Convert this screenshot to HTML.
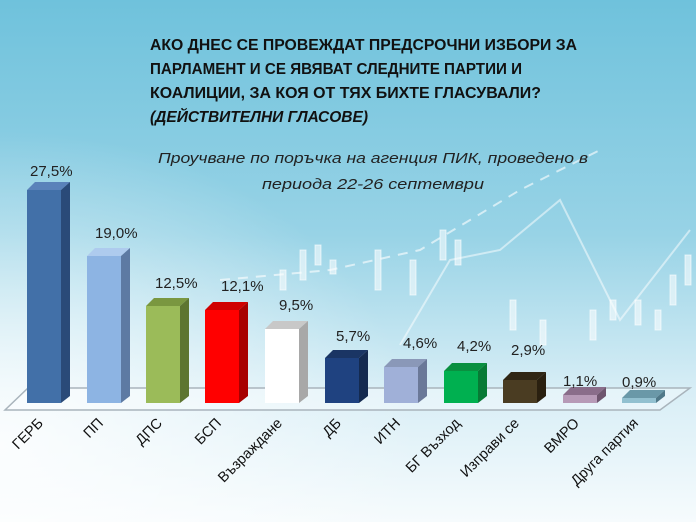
<!DOCTYPE html>
<html><head><meta charset="utf-8"><style>
html,body{margin:0;padding:0;width:696px;height:522px;overflow:hidden}
svg{display:block;font-family:"Liberation Sans","DejaVu Sans",sans-serif}
</style></head><body>
<svg width="696" height="522" viewBox="0 0 696 522">
<defs>
<linearGradient id="bg" x1="0" y1="0" x2="0" y2="1">
<stop offset="0" stop-color="#6fc2dc"/><stop offset="0.45" stop-color="#98d3e6"/><stop offset="0.75" stop-color="#d8eef6"/><stop offset="1" stop-color="#f6fbfd"/>
</linearGradient>
<radialGradient id="wl" cx="0" cy="0.85" r="0.6">
<stop offset="0" stop-color="#ffffff" stop-opacity="0.85"/><stop offset="1" stop-color="#ffffff" stop-opacity="0"/>
</radialGradient>
</defs>
<rect width="696" height="522" fill="url(#bg)"/>
<rect width="696" height="522" fill="url(#wl)"/>
<g stroke="#ffffff" stroke-opacity="0.6" fill="#ffffff" fill-opacity="0.55" stroke-width="1">
<rect x="280" y="270" width="6" height="20"/><rect x="300" y="250" width="6" height="30"/><rect x="315" y="245" width="6" height="20"/><rect x="330" y="260" width="6" height="14"/><rect x="375" y="250" width="6" height="40"/><rect x="410" y="260" width="6" height="35"/><rect x="440" y="230" width="6" height="30"/><rect x="455" y="240" width="6" height="25"/><rect x="510" y="300" width="6" height="30"/><rect x="540" y="320" width="6" height="25"/><rect x="590" y="310" width="6" height="30"/><rect x="610" y="300" width="6" height="20"/><rect x="635" y="300" width="6" height="25"/><rect x="655" y="310" width="6" height="20"/><rect x="670" y="275" width="6" height="30"/><rect x="685" y="255" width="6" height="30"/>
</g>
<polyline points="400,345 450,260 500,250 560,200 620,320 690,230" fill="none" stroke="#fff" stroke-opacity="0.5" stroke-width="2"/>
<polyline points="220,280 330,270 420,250 520,190 600,150" fill="none" stroke="#fff" stroke-opacity="0.6" stroke-width="2" stroke-dasharray="10,8"/>
<g font-weight="bold" font-size="16" fill="#111">
<text x="150" y="50" textLength="427" lengthAdjust="spacingAndGlyphs">АКО ДНЕС СЕ ПРОВЕЖДАТ ПРЕДСРОЧНИ ИЗБОРИ ЗА</text>
<text x="150" y="74" textLength="372" lengthAdjust="spacingAndGlyphs">ПАРЛАМЕНТ И СЕ ЯВЯВАТ СЛЕДНИТЕ ПАРТИИ И</text>
<text x="150" y="98" textLength="391" lengthAdjust="spacingAndGlyphs">КОАЛИЦИИ, ЗА КОЯ ОТ ТЯХ БИХТЕ ГЛАСУВАЛИ?</text>
<text x="150" y="122" font-style="italic" textLength="218" lengthAdjust="spacingAndGlyphs">(ДЕЙСТВИТЕЛНИ ГЛАСОВЕ)</text>
</g>
<g font-style="italic" font-size="15" fill="#222">
<text x="158" y="163" textLength="430" lengthAdjust="spacingAndGlyphs">Проучване по поръчка на агенция ПИК, проведено в</text>
<text x="262" y="189" textLength="222" lengthAdjust="spacingAndGlyphs">периода 22-26 септември</text>
</g>
<polygon points="5,410 660,410 690,388 28,388" fill="#ffffff" fill-opacity="0.35" stroke="#a9b4bc" stroke-width="1.5"/>
<g font-size="15" fill="#222">
<polygon points="27,190 35,182 70,182 61,190" fill="#5a82ba"/><polygon points="61,190 70,182 70,396 61,403" fill="#2a4a78"/><rect x="27" y="190" width="34" height="213" fill="#4270a8"/>
<text x="30" y="176">27,5%</text>
<polygon points="87,256 95,248 130,248 121,256" fill="#aecbee"/><polygon points="121,256 130,248 130,396 121,403" fill="#5d7aa3"/><rect x="87" y="256" width="34" height="147" fill="#8db4e3"/>
<text x="95" y="238">19,0%</text>
<polygon points="146,306 154,298 189,298 180,306" fill="#7a9740"/><polygon points="180,306 189,298 189,396 180,403" fill="#5d7530"/><rect x="146" y="306" width="34" height="97" fill="#9bbb59"/>
<text x="155" y="288">12,5%</text>
<polygon points="205,310 213,302 248,302 239,310" fill="#d00000"/><polygon points="239,310 248,302 248,396 239,403" fill="#a80000"/><rect x="205" y="310" width="34" height="93" fill="#ff0000"/>
<text x="221" y="291">12,1%</text>
<polygon points="265,329 273,321 308,321 299,329" fill="#c8c8c8"/><polygon points="299,329 308,321 308,396 299,403" fill="#a8a8a8"/><rect x="265" y="329" width="34" height="74" fill="#ffffff"/>
<text x="279" y="310">9,5%</text>
<polygon points="325,358 333,350 368,350 359,358" fill="#1a3564"/><polygon points="359,358 368,350 368,396 359,403" fill="#142a50"/><rect x="325" y="358" width="34" height="45" fill="#1f4280"/>
<text x="336" y="341">5,7%</text>
<polygon points="384,367 392,359 427,359 418,367" fill="#8a98b8"/><polygon points="418,367 427,359 427,396 418,403" fill="#6a7898"/><rect x="384" y="367" width="34" height="36" fill="#a0b0d8"/>
<text x="403" y="348">4,6%</text>
<polygon points="444,371 452,363 487,363 478,371" fill="#0a9040"/><polygon points="478,371 487,363 487,396 478,403" fill="#087a35"/><rect x="444" y="371" width="34" height="32" fill="#00b050"/>
<text x="457" y="351">4,2%</text>
<polygon points="503,380 511,372 546,372 537,380" fill="#302615"/><polygon points="537,380 546,372 546,396 537,403" fill="#2a2010"/><rect x="503" y="380" width="34" height="23" fill="#4a3c22"/>
<text x="511" y="355">2,9%</text>
<polygon points="563,395 571,387 606,387 597,395" fill="#8a6d8a"/><polygon points="597,395 606,387 606,396 597,403" fill="#6e556e"/><rect x="563" y="395" width="34" height="8" fill="#b79ab7"/>
<text x="563" y="386">1,1%</text>
<polygon points="622,398 630,390 665,390 656,398" fill="#6a98a8"/><polygon points="656,398 665,390 665,396 656,403" fill="#4f7888"/><rect x="622" y="398" width="34" height="5" fill="#92c0d0"/>
<text x="622" y="387">0,9%</text>
</g>
<g font-size="14.5" fill="#111" text-anchor="end">
<text transform="translate(44,424) rotate(-45)">ГЕРБ</text>
<text transform="translate(104,424) rotate(-45)">ПП</text>
<text transform="translate(163,424) rotate(-45)">ДПС</text>
<text transform="translate(222,424) rotate(-45)">БСП</text>
<text transform="translate(283,424) rotate(-45)">Възраждане</text>
<text transform="translate(342,424) rotate(-45)">ДБ</text>
<text transform="translate(401,424) rotate(-45)">ИТН</text>
<text transform="translate(461,424) rotate(-45)">БГ Възход</text>
<text transform="translate(520,424) rotate(-45)">Изправи се</text>
<text transform="translate(580,424) rotate(-45)">ВМРО</text>
<text transform="translate(639,424) rotate(-45)">Друга партия</text>
</g>
</svg>
</body></html>
